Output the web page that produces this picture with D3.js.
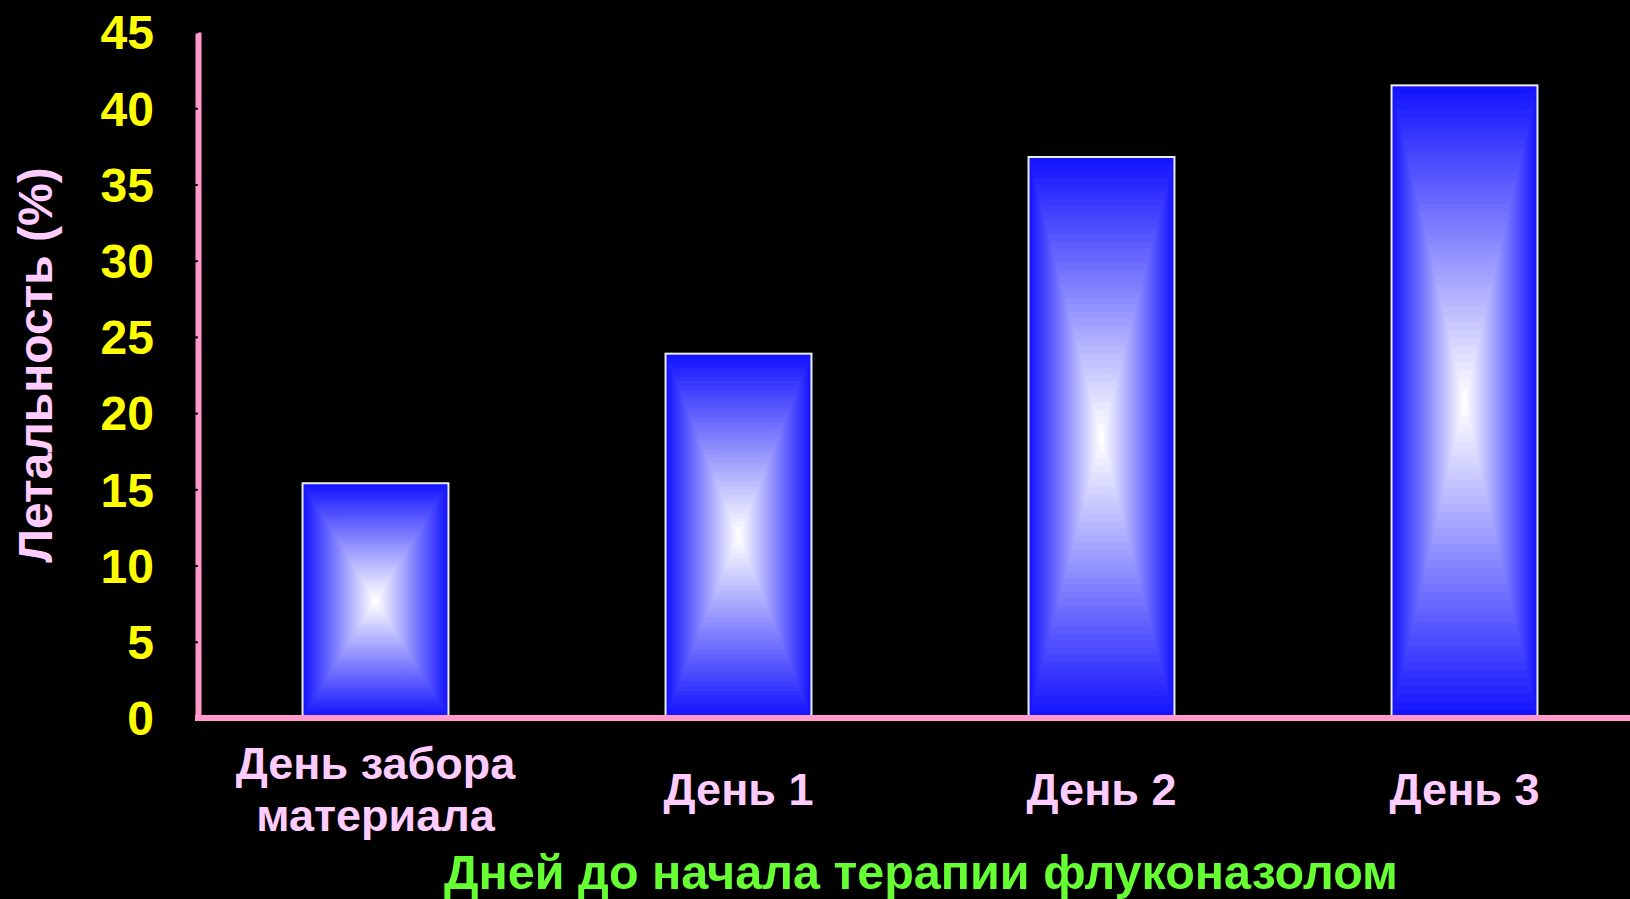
<!DOCTYPE html>
<html lang="ru">
<head>
<meta charset="utf-8">
<title>Летальность и сроки начала терапии флуконазолом</title>
<script src="https://cdn.jsdelivr.net/npm/d3@7"></script>
<style>
  html, body { margin: 0; padding: 0; background: #000; }
  svg { display: block; }
  text { font-family: "Liberation Sans", Arial, Helvetica, sans-serif; font-weight: bold; }
</style>
</head>
<body>
<svg id="chart" width="1630" height="899"></svg>
<script>
// Categories (line breaks inside a label are marked with "\n")
const categories = ["День забора\nматериала", "День 1", "День 2", "День 3"];
// Mortality, %
const mortality = [15.4, 23.9, 36.8, 41.5];
// Y axis ticks
const yTicks = [0, 5, 10, 15, 20, 25, 30, 35, 40, 45];
const yTitle = "Летальность (%)";
const xTitle = "Дней до начала терапии флуконазолом";

const W = 1630, H = 899;
const svg = d3.select("#chart").attr("width", W).attr("height", H);

svg.append("rect").attr("width", W).attr("height", H).attr("fill", "#000");

const x = d3.scaleBand()
  .domain(categories)
  .range([194, 1646])
  .paddingInner(0.598)
  .paddingOuter(0.299);

const y = d3.scaleLinear().domain([0, 45]).range([718, 32]);

// Bars: rectangular "from centre" gradient, blue edges fading to white in the middle
const steps = 40;
const edgeBlue = d3.rgb(20, 20, 255);
const shade = d3.interpolateRgb(edgeBlue, "#ffffff");

const bars = svg.append("g").attr("class", "bars")
  .selectAll("g")
  .data(categories.map((c, i) => ({ c, v: mortality[i] })))
  .join("g");

bars.each(function (d) {
  const g = d3.select(this);
  const x0 = x(d.c), w = x.bandwidth();
  const y0 = y(d.v), h = y(0) - y(d.v);
  g.selectAll("rect.band")
    .data(d3.range(steps))
    .join("rect")
    .attr("class", "band")
    .attr("x", k => x0 + (k / steps) * w / 2)
    .attr("y", k => y0 + (k / steps) * h / 2)
    .attr("width", k => w * (1 - k / steps))
    .attr("height", k => h * (1 - k / steps))
    .attr("fill", k => shade(k / (steps - 1)));
  g.append("rect")
    .attr("x", x0).attr("y", y0)
    .attr("width", w).attr("height", h)
    .attr("fill", "none")
    .attr("stroke", "#ececec")
    .attr("stroke-width", 2);
});

// Y axis
const yAxis = svg.append("g")
  .attr("transform", "translate(198,0)")
  .call(d3.axisLeft(y).tickValues(yTicks).tickSize(3).tickSizeOuter(0).tickPadding(41));
yAxis.select(".domain").attr("stroke", "#ff99cc").attr("stroke-width", 6);
yAxis.selectAll(".tick line").attr("stroke", "#000").attr("stroke-width", 2);
yAxis.selectAll(".tick text")
  .attr("fill", "#ffff00")
  .attr("font-size", 48)
  .attr("dy", "0.35em");

// X axis
const xAxis = svg.append("g")
  .attr("transform", `translate(0,${y(0)})`)
  .call(d3.axisBottom(x).tickSize(0).tickSizeOuter(0).tickFormat(""));
xAxis.select(".domain")
  .attr("d", `M195,0H${W}`)
  .attr("stroke", "#ff99cc").attr("stroke-width", 6);

xAxis.selectAll(".tick").each(function (d) {
  const lines = d.split("\n");
  const t = d3.select(this).select("text")
    .attr("y", 0).attr("dy", null)
    .attr("fill", "#ffccff")
    .attr("font-size", 45)
    .attr("text-anchor", "middle");
  t.text(null);
  lines.forEach((ln, i) => {
    t.append("tspan")
      .attr("x", 0)
      .attr("y", 87 + (i - (lines.length - 1) / 2) * 52)
      .text(ln);
  });
});

// Axis titles
svg.append("text")
  .attr("transform", "translate(52,365) rotate(-90)")
  .attr("text-anchor", "middle")
  .attr("fill", "#ffccff")
  .attr("font-size", 48)
  .text(yTitle);

svg.append("text")
  .attr("x", 921).attr("y", 889)
  .attr("text-anchor", "middle")
  .attr("fill", "#66ff33")
  .attr("font-size", 48.5)
  .text(xTitle);
</script>
</body>
</html>
